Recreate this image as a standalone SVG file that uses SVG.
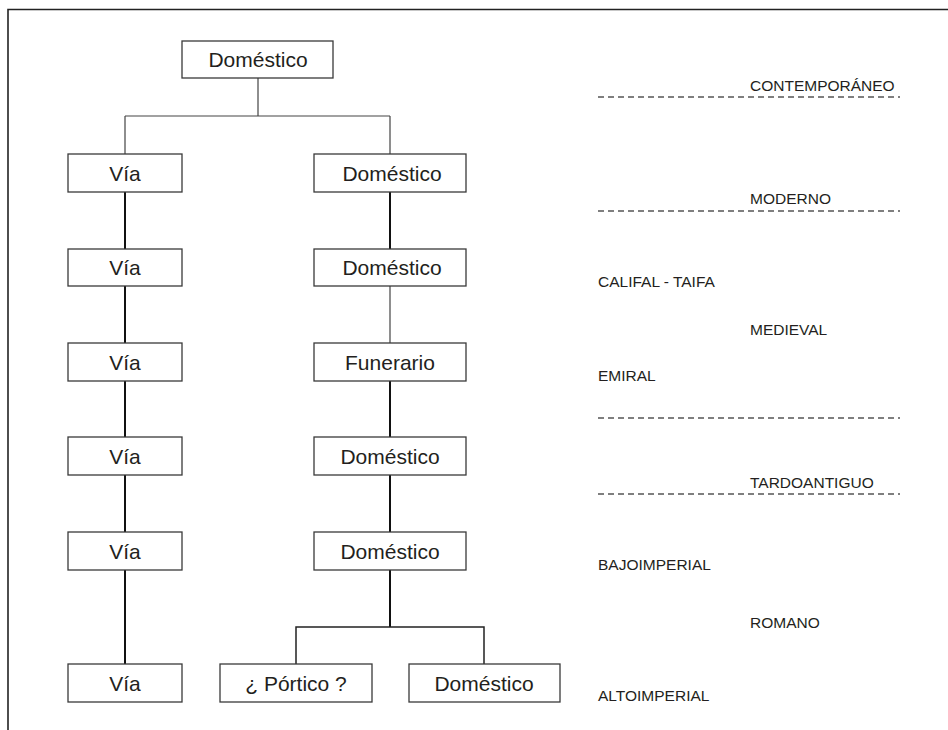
<svg xmlns="http://www.w3.org/2000/svg" width="948" height="730" viewBox="0 0 948 730">
<style>
.box{fill:#fff;stroke:#3a3a3a;stroke-width:1.3}
.lbl{font-family:"Liberation Sans",Arial,sans-serif;font-size:21px;fill:#231f20;text-anchor:middle}
.per{font-family:"Liberation Sans",Arial,sans-serif;font-size:15.5px;fill:#231f20}
.thick{stroke:#111;stroke-width:2;fill:none}
.thin{stroke:#444;stroke-width:1.2;fill:none}
.dash{stroke:#555;stroke-width:1.4;stroke-dasharray:6 4;fill:none}
.frame{stroke:#222;stroke-width:1.6;fill:none}
</style>
<rect width="948" height="730" fill="#fff"/>
<path class="frame" d="M8,730 V9.5 H948"/>
<g id="connectors">
<path class="thin" d="M258,78 V116 M125,116 H390 M125,116 V154 M390,116 V154"/>
<path class="thick" d="M125,192 V249 M125,286 V343 M125,381 V437 M125,475 V532 M125,570 V664"/>
<path class="thick" d="M390,192 V249 M390,381 V437 M390,475 V532 M390,570 V627"/>
<path class="thin" d="M390,286 V343"/>
<path class="thin" style="stroke-width:1.5;stroke:#222" d="M296,664 V627 H484 V664"/>
</g>
<g id="n_top"><rect class="box" x="182" y="41" width="151" height="37"/><text class="lbl" x="258" y="67">Doméstico</text></g>
<g id="n_via1"><rect class="box" x="68" y="154" width="114" height="38"/><text class="lbl" x="125" y="181">Vía</text></g>
<g id="n_dom1"><rect class="box" x="314" y="154" width="152" height="38"/><text class="lbl" x="392" y="181">Doméstico</text></g>
<g id="n_via2"><rect class="box" x="68" y="249" width="114" height="37"/><text class="lbl" x="125" y="275">Vía</text></g>
<g id="n_dom2"><rect class="box" x="314" y="249" width="152" height="37"/><text class="lbl" x="392" y="275">Doméstico</text></g>
<g id="n_via3"><rect class="box" x="68" y="343" width="114" height="38"/><text class="lbl" x="125" y="370">Vía</text></g>
<g id="n_fun"><rect class="box" x="314" y="343" width="152" height="38"/><text class="lbl" x="390" y="370">Funerario</text></g>
<g id="n_via4"><rect class="box" x="68" y="437" width="114" height="38"/><text class="lbl" x="125" y="464">Vía</text></g>
<g id="n_dom3"><rect class="box" x="314" y="437" width="152" height="38"/><text class="lbl" x="390" y="464">Doméstico</text></g>
<g id="n_via5"><rect class="box" x="68" y="532" width="114" height="38"/><text class="lbl" x="125" y="559">Vía</text></g>
<g id="n_dom4"><rect class="box" x="314" y="532" width="152" height="38"/><text class="lbl" x="390" y="559">Doméstico</text></g>
<g id="n_via6"><rect class="box" x="68" y="664" width="114" height="38"/><text class="lbl" x="125" y="691">Vía</text></g>
<g id="n_portico"><rect class="box" x="220" y="664" width="152" height="38"/><text class="lbl" x="296" y="691">¿ Pórtico ?</text></g>
<g id="n_dom5"><rect class="box" x="409" y="664" width="151" height="38"/><text class="lbl" x="484" y="691">Doméstico</text></g>
<g id="periods">
<text class="per" x="750" y="91">CONTEMPORÁNEO</text>
<path class="dash" d="M598,97 H900"/>
<text class="per" x="750" y="204">MODERNO</text>
<path class="dash" d="M598,211 H900"/>
<text class="per" x="598" y="287">CALIFAL - TAIFA</text>
<text class="per" x="750" y="335">MEDIEVAL</text>
<text class="per" x="598" y="381">EMIRAL</text>
<path class="dash" d="M598,418 H900"/>
<text class="per" x="750" y="488">TARDOANTIGUO</text>
<path class="dash" d="M598,494 H900"/>
<text class="per" x="598" y="570">BAJOIMPERIAL</text>
<text class="per" x="750" y="628">ROMANO</text>
<text class="per" x="598" y="701">ALTOIMPERIAL</text>
</g>
</svg>
